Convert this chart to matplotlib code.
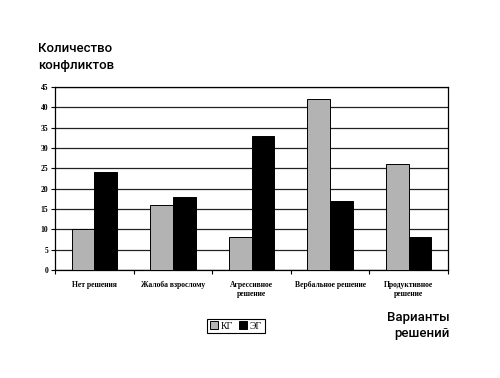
import numpy as np
import matplotlib.pyplot as plt

categories = ['Нет решения', 'Жалоба взрослому', 'Агрессивное\nрешение',
              'Вербальное решение', 'Продуктивное\nрешение']
kg = [10, 16, 8, 42, 26]
eg = [24, 18, 33, 17, 8]
y_ticks = list(range(0, 50, 5))

fig = plt.figure(figsize=(5, 3.78), dpi=100)
ax = fig.add_axes([55 / 500, 1 - 270 / 378, 393 / 500, 183 / 378])

x = np.arange(len(categories))
w = 0.29
b1 = ax.bar(x - w / 2, kg, w, color='#b3b3b3', edgecolor='black', linewidth=0.7, label='КГ', zorder=3)
b2 = ax.bar(x + w / 2, eg, w, color='black', edgecolor='black', linewidth=0.7, label='ЭГ', zorder=3)

ax.set_xlim(-0.5, len(categories) - 0.5)
ax.set_ylim(0, 45)
ax.set_yticks(y_ticks)
ax.set_yticklabels([str(t) for t in y_ticks], fontsize=5.5, family='Liberation Serif', fontweight='bold')
ax.yaxis.grid(True, color='#222222', linewidth=0.9, zorder=0)
# major ticks between categories, labels on minor ticks at the centres
ax.set_xticks(np.arange(-0.5, len(categories)), minor=False)
ax.set_xticklabels([])
ax.set_xticks(x, minor=True)
ax.set_xticklabels(categories, minor=True, fontsize=5.5, family='Liberation Serif', fontweight='bold')
ax.tick_params(axis='x', which='minor', length=0, pad=8)
ax.tick_params(axis='x', which='major', length=3, direction='out')
ax.tick_params(axis='y', length=3, direction='out', pad=2)
for s in ax.spines.values():
    s.set_linewidth(0.9)

tkw = dict(fontsize=9.5, family='Roboto', fontweight='medium', va='center')
fig.text(38 / 500, 1 - 48 / 378, 'Количество', **tkw)
fig.text(38 / 500, 1 - 66 / 378, 'конфликтов', **tkw)
fig.text(450 / 500, 1 - 317 / 378, 'Варианты', ha='right', **tkw)
fig.text(450 / 500, 1 - 334 / 378, 'решений', ha='right', **tkw)

leg = fig.legend(handles=[b1, b2], loc='center', bbox_to_anchor=(236 / 500, 1 - 326 / 378), ncol=2,
                 fancybox=False, edgecolor='black', framealpha=1,
                 prop={'family': 'Liberation Serif', 'size': 7},
                 handlelength=0.8, handleheight=0.8, handletextpad=0.3, columnspacing=0.6,
                 borderpad=0.3)
leg.get_frame().set_linewidth(0.8)

fig.savefig('out.png', dpi=100)
